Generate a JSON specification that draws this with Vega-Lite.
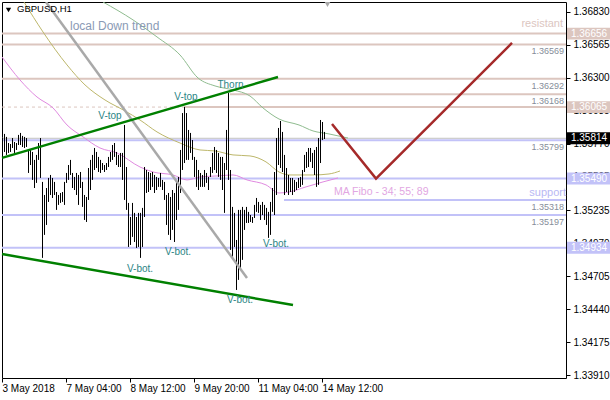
{
  "$schema": "https://vega.github.io/schema/vega-lite/v6.json",
  "description": "GBPUSD H1 with support/resistance levels, trend channel and MA Fibo 34/55/89",
  "width": 564,
  "height": 376,
  "autosize": "none",
  "padding": {"left": 2, "top": 2, "right": 44, "bottom": 22},
  "background": "white",
  "config": {
    "view": {"stroke": "#000000", "strokeWidth": 1},
    "font": "Liberation Sans",
    "text": {"font": "Liberation Sans"}
  },
  "datasets": {
    "bars": [
      {"i":0,"p":1.35816,"lo":1.35664},{"i":1,"p":1.35849,"lo":1.35704},{"i":2,"p":1.35825,"lo":1.3568},{"i":3,"p":1.35776,"lo":1.35696},
      {"i":4,"p":1.35768,"lo":1.35704},{"i":5,"p":1.35816,"lo":1.35736},{"i":6,"p":1.35784,"lo":1.35696},{"i":7,"p":1.35776,"lo":1.3572},
      {"i":8,"p":1.35841,"lo":1.3576},{"i":9,"p":1.35857,"lo":1.3576},{"i":10,"p":1.35833,"lo":1.35744},{"i":11,"p":1.35825,"lo":1.35736},
      {"i":12,"p":1.35816,"lo":1.35744},{"i":13,"p":1.3572,"lo":1.35535},{"i":14,"p":1.3572,"lo":1.35599},{"i":15,"p":1.35704,"lo":1.35479},
      {"i":16,"p":1.3564,"lo":1.35414},{"i":17,"p":1.3568,"lo":1.35455},{"i":18,"p":1.35776,"lo":1.3564},{"i":19,"p":1.35816,"lo":1.35495},
      {"i":20,"p":1.35463,"lo":1.34852},{"i":21,"p":1.35358,"lo":1.35037},{"i":22,"p":1.35414,"lo":1.35117},{"i":23,"p":1.35495,"lo":1.35302},
      {"i":24,"p":1.35519,"lo":1.35358},{"i":25,"p":1.35495,"lo":1.35334},{"i":26,"p":1.35463,"lo":1.35358},{"i":27,"p":1.35382,"lo":1.35238},
      {"i":28,"p":1.35358,"lo":1.35278},{"i":29,"p":1.35374,"lo":1.35294},{"i":30,"p":1.35382,"lo":1.35302},{"i":31,"p":1.35463,"lo":1.35278},
      {"i":32,"p":1.35535,"lo":1.35455},{"i":33,"p":1.35599,"lo":1.35479},{"i":34,"p":1.3564,"lo":1.35519},{"i":35,"p":1.35535,"lo":1.35414},
      {"i":36,"p":1.35503,"lo":1.35398},{"i":37,"p":1.35535,"lo":1.35358},{"i":38,"p":1.35519,"lo":1.35278},{"i":39,"p":1.35543,"lo":1.35414},
      {"i":40,"p":1.35463,"lo":1.35262},{"i":41,"p":1.35358,"lo":1.35157},{"i":42,"p":1.35342,"lo":1.35141},{"i":43,"p":1.35575,"lo":1.35318},
      {"i":44,"p":1.3564,"lo":1.35398},{"i":45,"p":1.3568,"lo":1.35479},{"i":46,"p":1.35736,"lo":1.35559},{"i":47,"p":1.35704,"lo":1.35575},
      {"i":48,"p":1.35664,"lo":1.35543},{"i":49,"p":1.3564,"lo":1.35535},{"i":50,"p":1.35615,"lo":1.35559},{"i":51,"p":1.35599,"lo":1.35543},
      {"i":52,"p":1.35615,"lo":1.35559},{"i":53,"p":1.35664,"lo":1.35583},{"i":54,"p":1.35704,"lo":1.35624},{"i":55,"p":1.3576,"lo":1.3564},
      {"i":56,"p":1.35776,"lo":1.35664},{"i":57,"p":1.35704,"lo":1.35599},{"i":58,"p":1.3568,"lo":1.35583},{"i":59,"p":1.35696,"lo":1.35583},
      {"i":60,"p":1.35696,"lo":1.35479},{"i":61,"p":1.35921,"lo":1.35318},{"i":62,"p":1.35583,"lo":1.35238},{"i":63,"p":1.35294,"lo":1.3494},
      {"i":64,"p":1.35181,"lo":1.34956},{"i":65,"p":1.35294,"lo":1.35021},{"i":66,"p":1.35214,"lo":1.3498},{"i":67,"p":1.35181,"lo":1.34932},
      {"i":68,"p":1.35214,"lo":1.3494},{"i":69,"p":1.35214,"lo":1.34852},{"i":70,"p":1.35254,"lo":1.3494},{"i":71,"p":1.35583,"lo":1.35181},
      {"i":72,"p":1.35559,"lo":1.35374},{"i":73,"p":1.35543,"lo":1.35382},{"i":74,"p":1.35535,"lo":1.35398},{"i":75,"p":1.35543,"lo":1.35423},
      {"i":76,"p":1.35519,"lo":1.35374},{"i":77,"p":1.35503,"lo":1.35398},{"i":78,"p":1.35495,"lo":1.35423},{"i":79,"p":1.35535,"lo":1.35423},
      {"i":80,"p":1.35479,"lo":1.35398},{"i":81,"p":1.35463,"lo":1.35318},{"i":82,"p":1.35358,"lo":1.35117},{"i":83,"p":1.35374,"lo":1.35037},
      {"i":84,"p":1.35342,"lo":1.34996},{"i":85,"p":1.35398,"lo":1.35077},{"i":86,"p":1.35374,"lo":1.3498},{"i":87,"p":1.35479,"lo":1.35157},
      {"i":88,"p":1.35503,"lo":1.35238},{"i":89,"p":1.3572,"lo":1.35374},{"i":90,"p":1.36017,"lo":1.35559},{"i":91,"p":1.36066,"lo":1.35615},
      {"i":92,"p":1.36017,"lo":1.3564},{"i":93,"p":1.35881,"lo":1.3564},{"i":94,"p":1.35857,"lo":1.35696},{"i":95,"p":1.358,"lo":1.3564},
      {"i":96,"p":1.35664,"lo":1.35503},{"i":97,"p":1.3564,"lo":1.35423},{"i":98,"p":1.35559,"lo":1.35398},{"i":99,"p":1.35535,"lo":1.35423},
      {"i":100,"p":1.35519,"lo":1.35423},{"i":101,"p":1.35559,"lo":1.35423},{"i":102,"p":1.35535,"lo":1.35455},{"i":103,"p":1.35503,"lo":1.35398},
      {"i":104,"p":1.35583,"lo":1.35503},{"i":105,"p":1.35696,"lo":1.35535},{"i":106,"p":1.35744,"lo":1.35559},{"i":107,"p":1.3572,"lo":1.35535},
      {"i":108,"p":1.35696,"lo":1.35503},{"i":109,"p":1.35664,"lo":1.35479},{"i":110,"p":1.35664,"lo":1.35398},{"i":111,"p":1.35615,"lo":1.35214},
      {"i":112,"p":1.35881,"lo":1.35559},{"i":113,"p":1.36178,"lo":1.35479},{"i":114,"p":1.35559,"lo":1.34916},{"i":115,"p":1.35262,"lo":1.3486},
      {"i":116,"p":1.35214,"lo":1.3494},{"i":117,"p":1.34996,"lo":1.34594},{"i":118,"p":1.35238,"lo":1.34675},{"i":119,"p":1.35238,"lo":1.34755},
      {"i":120,"p":1.35262,"lo":1.34836},{"i":121,"p":1.35238,"lo":1.35077},{"i":122,"p":1.35262,"lo":1.35133},{"i":123,"p":1.35222,"lo":1.35133},
      {"i":124,"p":1.35197,"lo":1.35141},{"i":125,"p":1.35181,"lo":1.35133},{"i":126,"p":1.35278,"lo":1.35173},{"i":127,"p":1.35334,"lo":1.35222},
      {"i":128,"p":1.35302,"lo":1.35214},{"i":129,"p":1.35278,"lo":1.35157},{"i":130,"p":1.35302,"lo":1.35197},{"i":131,"p":1.35278,"lo":1.35157},
      {"i":132,"p":1.35254,"lo":1.35117},{"i":133,"p":1.35222,"lo":1.35013},{"i":134,"p":1.35302,"lo":1.35037},{"i":135,"p":1.35414,"lo":1.35222},
      {"i":136,"p":1.35543,"lo":1.35197},{"i":137,"p":1.35816,"lo":1.35358},{"i":138,"p":1.35897,"lo":1.35599},{"i":139,"p":1.35953,"lo":1.35575},
      {"i":140,"p":1.35865,"lo":1.35543},{"i":141,"p":1.3568,"lo":1.35358},{"i":142,"p":1.35575,"lo":1.35382},{"i":143,"p":1.35519,"lo":1.35358},
      {"i":144,"p":1.35495,"lo":1.35382},{"i":145,"p":1.35495,"lo":1.35358},{"i":146,"p":1.35479,"lo":1.35382},{"i":147,"p":1.35463,"lo":1.35398},
      {"i":148,"p":1.35495,"lo":1.35414},{"i":149,"p":1.35503,"lo":1.35423},{"i":150,"p":1.35559,"lo":1.35439},{"i":151,"p":1.3568,"lo":1.35543},
      {"i":152,"p":1.35704,"lo":1.35575},{"i":153,"p":1.35736,"lo":1.35583},{"i":154,"p":1.35736,"lo":1.35624},{"i":155,"p":1.35696,"lo":1.35575},
      {"i":156,"p":1.3572,"lo":1.35519},{"i":157,"p":1.35744,"lo":1.35423},{"i":158,"p":1.35816,"lo":1.35439},{"i":159,"p":1.35961,"lo":1.35615},
      {"i":160,"p":1.35945,"lo":1.358},{"i":161,"p":1.35865,"lo":1.35808}
    ],
    "mas": [
      {"ma":"34","i":0,"p":1.36468},{"ma":"34","i":9,"p":1.36283},{"ma":"34","i":17.5,"p":1.36146},{"ma":"34","i":25.5,"p":1.36058},
      {"ma":"34","i":32.5,"p":1.35921},{"ma":"34","i":40.5,"p":1.35825},{"ma":"34","i":49,"p":1.35736},{"ma":"34","i":57.5,"p":1.35696},
      {"ma":"34","i":69,"p":1.35583},{"ma":"34","i":75.5,"p":1.35543},{"ma":"34","i":85.5,"p":1.35519},{"ma":"34","i":92.5,"p":1.35479},
      {"ma":"34","i":99,"p":1.35503},{"ma":"34","i":107.5,"p":1.35511},{"ma":"34","i":115.5,"p":1.35519},{"ma":"34","i":122.5,"p":1.35479},
      {"ma":"34","i":132,"p":1.35439},{"ma":"34","i":138.5,"p":1.35374},{"ma":"34","i":143.5,"p":1.35382},{"ma":"34","i":152,"p":1.35423},
      {"ma":"34","i":160.5,"p":1.35463},{"ma":"34","i":168,"p":1.35495},
      {"ma":"55","i":11,"p":1.3691},{"ma":"55","i":20.5,"p":1.36669},{"ma":"55","i":32.5,"p":1.36404},{"ma":"55","i":41.5,"p":1.36243},
      {"ma":"55","i":51.5,"p":1.36122},{"ma":"55","i":61.5,"p":1.36034},{"ma":"55","i":69,"p":1.35961},{"ma":"55","i":77.5,"p":1.35865},
      {"ma":"55","i":89,"p":1.35776},{"ma":"55","i":99,"p":1.3572},{"ma":"55","i":106.5,"p":1.35712},{"ma":"55","i":115.5,"p":1.3568},
      {"ma":"55","i":124,"p":1.35672},{"ma":"55","i":132,"p":1.35624},{"ma":"55","i":138.5,"p":1.35543},{"ma":"55","i":144,"p":1.35519},
      {"ma":"55","i":155.5,"p":1.35519},{"ma":"55","i":163.5,"p":1.35527},{"ma":"55","i":169,"p":1.35551},
      {"ma":"89","i":50.5,"p":1.3691},{"ma":"89","i":65.5,"p":1.36766},{"ma":"89","i":77.5,"p":1.36629},{"ma":"89","i":89,"p":1.36484},
      {"ma":"89","i":98,"p":1.36299},{"ma":"89","i":106.5,"p":1.36235},{"ma":"89","i":115.5,"p":1.36203},{"ma":"89","i":124,"p":1.36154},
      {"ma":"89","i":130.5,"p":1.36058},{"ma":"89","i":138.5,"p":1.35969},{"ma":"89","i":148.5,"p":1.35921},{"ma":"89","i":155.5,"p":1.35873},
      {"ma":"89","i":163.5,"p":1.35849},{"ma":"89","i":173,"p":1.35816}
    ],
    "levels": [
      {"kind":"res","p":1.36656,"i":0,"e":282},
      {"kind":"res","p":1.36569,"i":0,"e":282},
      {"kind":"res","p":1.36292,"i":0,"e":282},
      {"kind":"res","p":1.36168,"i":114,"e":282},
      {"kind":"res","p":1.36065,"i":91,"e":282},
      {"kind":"resdash","p":1.36065,"i":0,"e":91},
      {"kind":"bid","p":1.35814,"i":0,"e":282},
      {"kind":"sup","p":1.35799,"i":0,"e":282},
      {"kind":"sup","p":1.3549,"i":0,"e":282},
      {"kind":"sup","p":1.35318,"i":141,"e":282},
      {"kind":"sup","p":1.35197,"i":0,"e":282},
      {"kind":"sup","p":1.34934,"i":0,"e":282}
    ],
    "tags": [
      {"i":281,"p":1.36569},{"i":281,"p":1.36292},{"i":281,"p":1.36168},
      {"i":281,"p":1.35799},{"i":281,"p":1.35318},{"i":281,"p":1.35197}
    ],
    "boxes": [
      {"kind":"res","i":293.5,"p":1.36656},{"kind":"res","i":293.5,"p":1.36065},{"kind":"bid","i":293.5,"p":1.35814},
      {"kind":"sup","i":293.5,"p":1.3549},{"kind":"sup","i":293.5,"p":1.34934}
    ],
    "trends": [
      {"name":"up","i":0,"p":1.35656},{"name":"up","i":138,"p":1.36307},
      {"name":"down","i":0,"p":1.34883},{"name":"down","i":145.5,"p":1.34473},
      {"name":"fall","i":22,"p":1.3691},{"name":"fall","i":122.5,"p":1.3469},
      {"name":"path","i":165,"p":1.35929},{"name":"path","i":187,"p":1.3549},{"name":"path","i":255,"p":1.36581}
    ],
    "notes": [
      {"t":"V-top","i":54,"p":1.35993},{"t":"V-top","i":92,"p":1.36146},{"t":"Thorn","i":114.25,"p":1.36243},
      {"t":"V-bot.","i":69,"p":1.34763},{"t":"V-bot.","i":88,"p":1.34899},{"t":"V-bot.","i":119,"p":1.34513},{"t":"V-bot.","i":137,"p":1.34964}
    ],
    "captions": [
      {"t":"GBPUSD,H1","i":7.5,"p":1.3685,"kind":"title"},
      {"t":"local Down trend","i":34,"p":1.36721,"kind":"trend"},
      {"t":"MA Fibo - 34; 55; 89","i":166,"p":1.35378,"kind":"ma"},
      {"t":"resistant","i":280.5,"p":1.36733,"kind":"res"},
      {"t":"support","i":282,"p":1.3537,"kind":"sup"}
    ],
    "symbols": [
      {"kind":"menu","i":3.25,"p":1.36846},
      {"kind":"shift","i":162.75,"p":1.36894}
    ]
  },
  "encoding": {
    "x": {
      "field": "i", "type": "quantitative",
      "scale": {"domain": [0, 282], "nice": false, "zero": false},
      "axis": {
        "values": [0, 32, 64, 96, 128, 160],
        "labelExpr": "['3 May 2018','7 May 04:00','8 May 12:00','9 May 20:00','11 May 04:00','14 May 12:00'][round(datum.value/32)]",
        "labelAlign": "left", "labelBaseline": "top", "labelPadding": 1,
        "labelFont": "Liberation Sans", "labelFontSize": 10, "labelColor": "#000000",
        "labelOverlap": false, "labelBound": false, "labelFlush": false,
        "tickSize": 4, "tickColor": "#000000", "domain": false, "grid": false, "title": null
      }
    },
    "y": {
      "field": "p", "type": "quantitative",
      "scale": {"domain": [1.33886, 1.3691], "nice": false, "zero": false},
      "axis": {
        "orient": "right",
        "zindex": 0,
        "values": [1.3683, 1.36565, 1.363, 1.36035, 1.3577, 1.35505, 1.35235, 1.3497, 1.34705, 1.3444, 1.34175, 1.3391],
        "format": ".5f",
        "labelFont": "Liberation Sans", "labelFontSize": 10, "labelColor": "#000000",
        "labelPadding": 3, "labelOverlap": false, "labelBound": false, "labelFlush": false,
        "tickSize": 4, "tickColor": "#000000", "domain": false, "grid": false, "title": null
      }
    }
  },
  "layer": [
    {
      "data": {"name": "levels"},
      "transform": [{"filter": "datum.kind == 'res'"}],
      "mark": {"type": "rule", "color": "#dcc6bf", "strokeWidth": 2},
      "encoding": {"x2": {"field": "e"}}
    },
    {
      "data": {"name": "levels"},
      "transform": [{"filter": "datum.kind == 'resdash'"}],
      "mark": {"type": "rule", "color": "#dcc6bf", "strokeWidth": 1, "strokeDash": [3, 3]},
      "encoding": {"x2": {"field": "e"}}
    },
    {
      "data": {"name": "levels"},
      "transform": [{"filter": "datum.kind == 'sup'"}],
      "mark": {"type": "rule", "color": "#c2c2f8", "strokeWidth": 2},
      "encoding": {"x2": {"field": "e"}}
    },
    {
      "data": {"name": "levels"},
      "transform": [{"filter": "datum.kind == 'bid'"}],
      "mark": {"type": "rule", "color": "#c0c0c0", "strokeWidth": 1},
      "encoding": {"x2": {"field": "e"}}
    },
    {
      "data": {"name": "mas"},
      "transform": [{"filter": "datum.ma == '34'"}],
      "mark": {"type": "line", "color": "#e08ae0", "strokeWidth": 1, "interpolate": "monotone", "clip": true},
      "encoding": {}
    },
    {
      "data": {"name": "mas"},
      "transform": [{"filter": "datum.ma == '55'"}],
      "mark": {"type": "line", "color": "#bdb76b", "strokeWidth": 1, "interpolate": "monotone", "clip": true},
      "encoding": {}
    },
    {
      "data": {"name": "mas"},
      "transform": [{"filter": "datum.ma == '89'"}],
      "mark": {"type": "line", "color": "#8fbc8f", "strokeWidth": 1, "interpolate": "monotone", "clip": true},
      "encoding": {}
    },
    {
      "data": {"name": "bars"},
      "mark": {"type": "rule", "color": "#000000", "strokeWidth": 1, "xOffset": 0.5},
      "encoding": {"y2": {"field": "lo"}}
    },
    {
      "data": {"name": "trends"},
      "transform": [{"filter": "datum.name == 'fall'"}],
      "mark": {"type": "line", "color": "#a9a9a9", "strokeWidth": 2.5, "clip": true},
      "encoding": {}
    },
    {
      "data": {"name": "trends"},
      "transform": [{"filter": "datum.name == 'up' || datum.name == 'down'"}],
      "mark": {"type": "line", "color": "#008000", "strokeWidth": 2.5},
      "encoding": {"detail": {"field": "name"}}
    },
    {
      "data": {"name": "trends"},
      "transform": [{"filter": "datum.name == 'path'"}],
      "mark": {"type": "line", "color": "#a52a2a", "strokeWidth": 2.5},
      "encoding": {}
    },
    {
      "data": {"name": "notes"},
      "mark": {"type": "text", "color": "#2b8585", "fontSize": 10, "align": "center", "baseline": "middle"},
      "encoding": {"text": {"field": "t"}}
    },
    {
      "data": {"name": "captions"},
      "transform": [{"filter": "datum.kind == 'title'"}],
      "mark": {"type": "text", "color": "#000000", "fontSize": 9.5, "align": "left", "baseline": "middle"},
      "encoding": {"text": {"field": "t"}}
    },
    {
      "data": {"name": "captions"},
      "transform": [{"filter": "datum.kind == 'trend'"}],
      "mark": {"type": "text", "color": "#8a9ab5", "fontSize": 12, "align": "left", "baseline": "middle"},
      "encoding": {"text": {"field": "t"}}
    },
    {
      "data": {"name": "captions"},
      "transform": [{"filter": "datum.kind == 'ma'"}],
      "mark": {"type": "text", "color": "#e2a6e2", "fontSize": 10.5, "align": "left", "baseline": "middle"},
      "encoding": {"text": {"field": "t"}}
    },
    {
      "data": {"name": "captions"},
      "transform": [{"filter": "datum.kind == 'res'"}],
      "mark": {"type": "text", "color": "#dcc6bf", "fontSize": 11, "align": "right", "baseline": "middle"},
      "encoding": {"text": {"field": "t"}}
    },
    {
      "data": {"name": "captions"},
      "transform": [{"filter": "datum.kind == 'sup'"}],
      "mark": {"type": "text", "color": "#b8b8f4", "fontSize": 11, "align": "right", "baseline": "middle"},
      "encoding": {"text": {"field": "t"}}
    },
    {
      "data": {"name": "tags"},
      "mark": {"type": "text", "color": "#868e9a", "fontSize": 9, "align": "right", "baseline": "middle", "dy": 7},
      "encoding": {"text": {"field": "p", "type": "quantitative", "format": ".5f"}}
    },
    {
      "data": {"name": "symbols"},
      "transform": [{"filter": "datum.kind == 'menu'"}],
      "mark": {"type": "point", "shape": "triangle-down", "filled": true, "color": "#000000", "size": 28, "opacity": 1}
    },
    {
      "data": {"name": "symbols"},
      "transform": [{"filter": "datum.kind == 'shift'"}],
      "mark": {"type": "point", "shape": "triangle-down", "filled": true, "color": "#a8a8a8", "size": 45, "opacity": 1, "clip": true}
    },
    {
      "data": {"name": "boxes"},
      "transform": [{"filter": "datum.kind == 'res'"}],
      "mark": {"type": "point", "shape": "M-1,-0.27H1V0.27H-1Z", "filled": true, "color": "#dcc6bf", "size": 1936, "opacity": 1, "strokeWidth": 0}
    },
    {
      "data": {"name": "boxes"},
      "transform": [{"filter": "datum.kind == 'bid'"}],
      "mark": {"type": "point", "shape": "M-1,-0.27H1V0.27H-1Z", "filled": true, "color": "#000000", "size": 1936, "opacity": 1, "strokeWidth": 0}
    },
    {
      "data": {"name": "boxes"},
      "transform": [{"filter": "datum.kind == 'sup'"}],
      "mark": {"type": "point", "shape": "M-1,-0.27H1V0.27H-1Z", "filled": true, "color": "#c2c2f8", "size": 1936, "opacity": 1, "strokeWidth": 0}
    },
    {
      "data": {"name": "boxes"},
      "mark": {"type": "text", "color": "#ffffff", "fontSize": 10, "align": "center", "baseline": "middle"},
      "encoding": {"text": {"field": "p", "type": "quantitative", "format": ".5f"}}
    }
  ]
}
